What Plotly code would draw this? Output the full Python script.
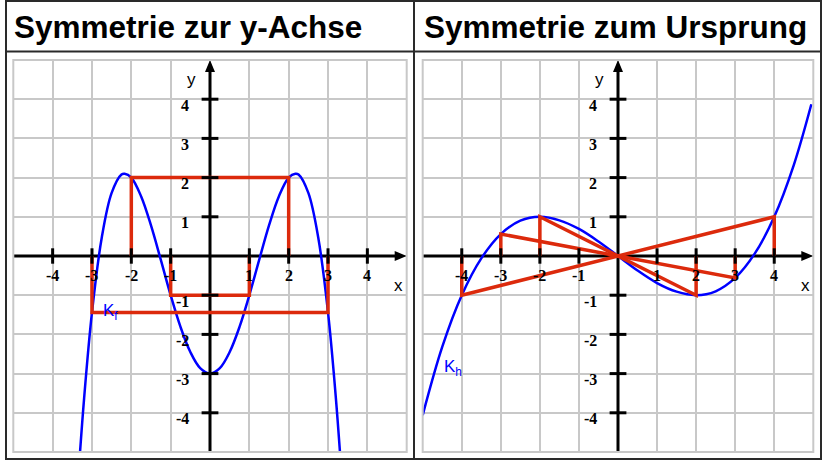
import plotly.graph_objects as go

W, H = 823, 460

# K_f (left panel)
f_x = [-3.35, -3.2, -3.0, -2.75, -2.5, -2.25, -2.17, -2.0, -1.75, -1.5, -1.25, -1.0,
       -0.75, -0.5, -0.25, 0.0, 0.25, 0.5, 0.75, 1.0, 1.25, 1.5, 1.75, 2.0, 2.17,
       2.25, 2.5, 2.75, 3.0, 3.2, 3.35]
f_y = [-5.66, -3.63, -1.44, 0.48, 1.61, 2.08, 2.10, 2.0, 1.52, 0.78, -0.10, -1.0,
       -1.81, -2.45, -2.86, -3.0, -2.86, -2.45, -1.81, -1.0, -0.10, 0.78, 1.52, 2.0, 2.10,
       2.08, 1.61, 0.48, -1.44, -3.63, -5.66]

# K_h (right panel)
h_x = [-5.0, -4.5, -4.0, -3.5, -3.0, -2.5, -2.0, -1.5, -1.0, -0.5, 0.0,
       0.5, 1.0, 1.5, 2.0, 2.5, 3.0, 3.5, 4.0, 4.5, 4.95]
h_y = [-4.06, -2.32, -1.0, -0.06, 0.56, 0.90, 1.0, 0.91, 0.69, 0.37, 0.0,
       -0.37, -0.69, -0.91, -1.0, -0.90, -0.56, 0.06, 1.0, 2.32, 3.87]

# red construction lines: x and function value at x
f_marks_x = [1, 2, 3]
f_marks_y = [-1.0, 2.0, -1.44]
h_marks_x = [2, 3, 4]
h_marks_y = [-1.0, -0.56, 1.0]

ticks = [-4, -3, -2, -1, 1, 2, 3, 4]
titles = ["Symmetrie zur y-Achse", "Symmetrie zum Ursprung"]

RED = "#dc2a0c"
BLUE = "#0000ff"


def px(x):
    return x / W


def py(y):
    return 1 - y / H


fig = go.Figure()

panels = [("x", "y", 13.3, 406.7), ("x2", "y2", 422.7, 813.3)]
top, bottom = 60, 452

for i, (xa, ya, x0, x1) in enumerate(panels):
    # axis lines
    fig.add_trace(go.Scatter(x=[-5, 4.8], y=[0, 0], mode="lines", xaxis=xa, yaxis=ya,
                             line=dict(color="black", width=3), hoverinfo="skip"))
    fig.add_trace(go.Scatter(x=[0, 0], y=[-5, 4.8], mode="lines", xaxis=xa, yaxis=ya,
                             line=dict(color="black", width=3), hoverinfo="skip"))
    # curve
    cx, cy = (f_x, f_y) if i == 0 else (h_x, h_y)
    fig.add_trace(go.Scatter(x=cx, y=cy, mode="lines", xaxis=xa, yaxis=ya,
                             line=dict(color=BLUE, width=2.5, shape="spline"), hoverinfo="skip"))
    # red lines
    if i == 0:
        for mx, my in zip(f_marks_x, f_marks_y):
            fig.add_trace(go.Scatter(x=[-mx, -mx, mx, mx], y=[0, my, my, 0], mode="lines",
                                     xaxis=xa, yaxis=ya, line=dict(color=RED, width=3.5),
                                     hoverinfo="skip"))
    else:
        for mx, my in zip(h_marks_x, h_marks_y):
            fig.add_trace(go.Scatter(x=[-mx, -mx, mx, mx], y=[0, -my, my, 0], mode="lines",
                                     xaxis=xa, yaxis=ya, line=dict(color=RED, width=3.5),
                                     hoverinfo="skip"))
    # tick marks
    fig.add_trace(go.Scatter(x=ticks, y=[0] * len(ticks), mode="markers", xaxis=xa, yaxis=ya,
                             marker=dict(symbol="line-ns", size=11, line=dict(width=3, color="black")),
                             hoverinfo="skip", cliponaxis=False))
    fig.add_trace(go.Scatter(x=[0] * len(ticks), y=ticks, mode="markers", xaxis=xa, yaxis=ya,
                             marker=dict(symbol="line-ew", size=12, line=dict(width=3, color="black")),
                             hoverinfo="skip", cliponaxis=False))

    # arrowheads
    fig.add_shape(type="path", xref=xa, yref=ya, xsizemode="pixel", ysizemode="pixel",
                  xanchor=5, yanchor=0, path="M 0 0 L -12 5 L -12 -5 Z",
                  fillcolor="black", line=dict(width=0))
    fig.add_shape(type="path", xref=xa, yref=ya, xsizemode="pixel", ysizemode="pixel",
                  xanchor=0, yanchor=5, path="M 0 0 L -5 -12 L 5 -12 Z",
                  fillcolor="black", line=dict(width=0))

    # grid border
    fig.add_shape(type="rect", xref="paper", yref="paper", x0=px(x0), x1=px(x1),
                  y0=py(bottom), y1=py(top), line=dict(color="#c8c8c8", width=2))

    # tick labels
    for t in ticks:
        fig.add_annotation(x=t, y=0, xref=xa, yref=ya, text=str(t), showarrow=False,
                           yshift=-19, font=dict(family="Liberation Serif", size=16,
                                                 color="black", weight="bold"))
        fig.add_annotation(x=0, y=t, xref=xa, yref=ya, text=str(t), showarrow=False,
                           xanchor="right", xshift=-19, yshift=-6,
                           font=dict(family="Liberation Serif", size=16,
                                     color="black", weight="bold"))
    fig.add_annotation(x=-0.48, y=4.49, xref=xa, yref=ya, text="y", showarrow=False,
                       font=dict(family="Liberation Sans", size=17, color="black"))
    fig.add_annotation(x=4.8, y=-0.74, xref=xa, yref=ya, text="x", showarrow=False,
                       font=dict(family="Liberation Sans", size=17, color="black"))

    # header
    fig.add_annotation(x=px(x0 - 1), y=py(26.5), xref="paper", yref="paper", text=titles[i],
                       showarrow=False, xanchor="left", yanchor="middle",
                       font=dict(family="Liberation Sans", size=31.5, color="black", weight="bold"))

fig.add_annotation(x=-2.78, y=-1.42, xref="x", yref="y", text="K<sub>f</sub>", showarrow=False,
                   xanchor="left", font=dict(family="Liberation Sans", size=17, color=BLUE))
fig.add_annotation(x=-4.5, y=-2.85, xref="x2", yref="y2", text="K<sub>h</sub>", showarrow=False,
                   xanchor="left", font=dict(family="Liberation Sans", size=17, color=BLUE))

# table frame
frame = "#2a2a2a"
fig.add_shape(type="rect", xref="paper", yref="paper", x0=px(6), x1=px(821), y0=py(459), y1=py(1),
              line=dict(color=frame, width=2))
fig.add_shape(type="line", xref="paper", yref="paper", x0=px(414), x1=px(414), y0=py(459), y1=py(1),
              line=dict(color=frame, width=2))
fig.add_shape(type="line", xref="paper", yref="paper", x0=px(6), x1=px(821), y0=py(51.5), y1=py(51.5),
              line=dict(color=frame, width=2))

axis = dict(range=[-5, 5], dtick=1, tick0=0, showgrid=True, gridcolor="#c8c8c8", gridwidth=2,
            zeroline=False, showticklabels=False, ticks="", showline=False, fixedrange=True)
fig.update_layout(
    width=W, height=H, margin=dict(l=0, r=0, t=0, b=0),
    paper_bgcolor="white", plot_bgcolor="white", showlegend=False,
    xaxis=dict(axis, domain=[px(13.3), px(406.7)], anchor="y"),
    yaxis=dict(axis, domain=[py(452), py(60)], anchor="x"),
    xaxis2=dict(axis, domain=[px(422.7), px(813.3)], anchor="y2"),
    yaxis2=dict(axis, domain=[py(452), py(60)], anchor="x2"),
)

# page body has a default 8px margin; drop it so the figure fills the window
fig.write_html("out.html", config={"displayModeBar": False},
               post_script="document.body.style.margin = '0';")
